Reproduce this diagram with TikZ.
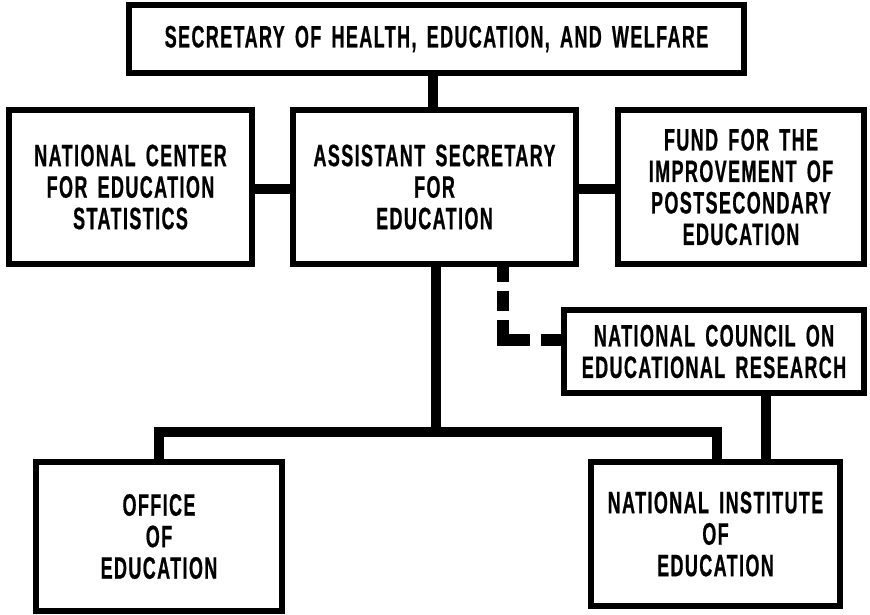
\documentclass[tikz,border=0pt]{standalone}
\usepackage{fontspec}
\setmainfont{Liberation Sans}[FakeStretch=0.58, FakeBold=0.6, LetterSpace=4.5, WordSpace=1.6]
\begin{document}
\begin{tikzpicture}[x=1pt,y=-1pt,
  box/.style={draw=black, fill=white, line width=5.5pt, inner sep=0pt,
    align=center, font=\bfseries\fontsize{31}{31.5}\selectfont},
  conn/.style={line width=10pt, line join=miter},
  dashline/.style={line width=12pt,
    dash pattern=on 15pt off 9pt on 20pt off 9pt on 47pt off 11pt on 40pt}]
\useasboundingbox (0,0) rectangle (870,614);

% organisation boxes
\node[box, minimum width=615pt, minimum height=68pt] (top) at (436.5,39)
  {SECRETARY OF HEALTH, EDUCATION, AND WELFARE};
\node[box, minimum width=243pt, minimum height=154pt] (nces) at (130.5,187)
  {NATIONAL CENTER\\FOR EDUCATION\\STATISTICS};
\node[box, minimum width=283pt, minimum height=154pt] (mid) at (434.5,187)
  {ASSISTANT SECRETARY\\FOR\\EDUCATION};
\node[box, minimum width=246pt, minimum height=154pt] (fipse) at (741,187)
  {FUND FOR THE\\IMPROVEMENT OF\\POSTSECONDARY\\EDUCATION};
\node[box, minimum width=300pt, minimum height=83pt] (council) at (714,351.5)
  {NATIONAL COUNCIL ON\\EDUCATIONAL RESEARCH};
\node[box, minimum width=246pt, minimum height=149pt] (office) at (159,536.5)
  {OFFICE\\OF\\EDUCATION};
\node[box, minimum width=249pt, minimum height=144pt] (nie) at (715.5,534)
  {NATIONAL INSTITUTE\\OF\\EDUCATION};

\coordinate (bus) at (436,432);

% solid lines of authority
\draw[conn] ([xshift=-1.5pt]mid.north) -- ([xshift=-1.5pt]mid.north |- top.south);
\draw[conn] ([yshift=-2pt]nces.east) -- ([yshift=-2pt]nces.east -| mid.west);
\draw[conn] ([yshift=-2pt]mid.east) -- ([yshift=-2pt]mid.east -| fipse.west);
\draw[conn] (mid.south -| bus) -- (bus);
\draw[conn] (office.north) |- (bus) -| ([xshift=1.5pt]nie.north);
\draw[conn] ([xshift=52pt]council.south) -- ([xshift=52pt]council.south |- nie.north);

% advisory link
\draw[dashline] ([xshift=68.5pt]mid.south) |- ([yshift=11.5pt]council.west);
\end{tikzpicture}
\end{document}
